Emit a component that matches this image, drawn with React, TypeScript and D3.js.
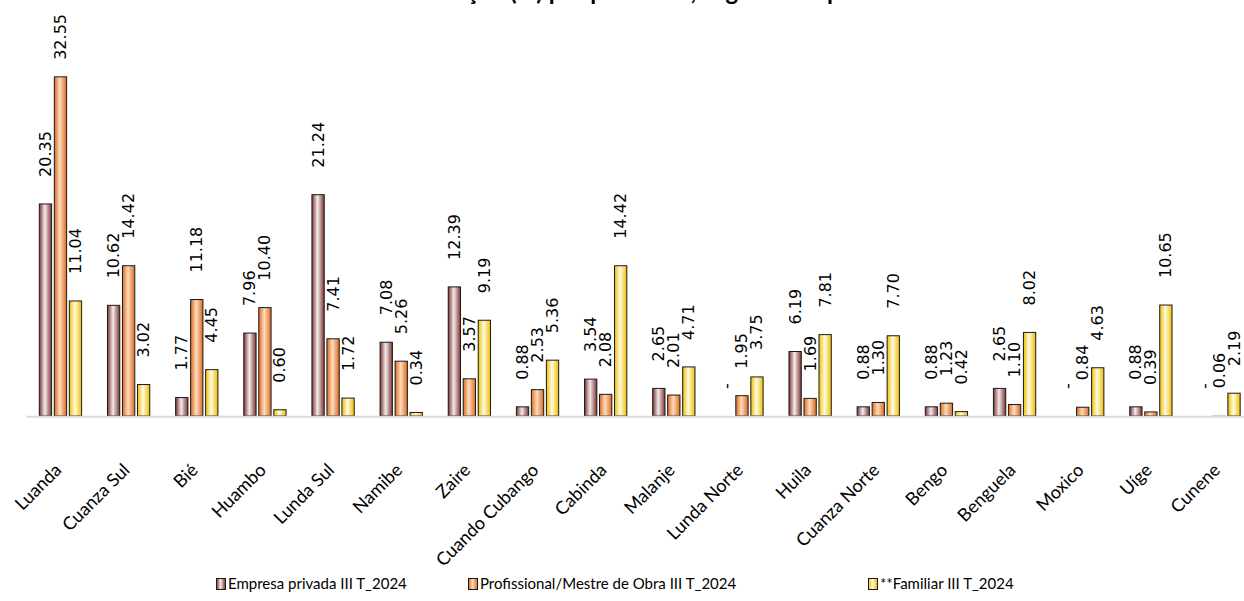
import React, { useEffect, useRef } from 'react';
import * as d3 from 'd3';

const categories = [
  'Luanda', 'Cuanza Sul', 'Bié', 'Huambo', 'Lunda Sul', 'Namibe', 'Zaire',
  'Cuando Cubango', 'Cabinda', 'Malanje', 'Lunda Norte', 'Huila',
  'Cuanza Norte', 'Bengo', 'Benguela', 'Moxico', 'Uíge', 'Cunene',
];
const empresaPrivada = [20.35, 10.62, 1.77, 7.96, 21.24, 7.08, 12.39, 0.88, 3.54, 2.65, 0, 6.19, 0.88, 0.88, 2.65, 0, 0.88, 0];
const profissional = [32.55, 14.42, 11.18, 10.4, 7.41, 5.26, 3.57, 2.53, 2.08, 2.01, 1.95, 1.69, 1.3, 1.23, 1.1, 0.84, 0.39, 0.06];
const familiar = [11.04, 3.02, 4.45, 0.6, 1.72, 0.34, 9.19, 5.36, 14.42, 4.71, 3.75, 7.81, 7.7, 0.42, 8.02, 4.63, 10.65, 2.19];
const seriesNames = ['Empresa privada III T_2024', 'Profissional/Mestre de Obra III T_2024', '**Familiar III T_2024'];
const title = 'Distribuição (%) por promotor, segundo as províncias';

const seriesValues = [empresaPrivada, profissional, familiar];
const gradients = [
  { edge: '#7a3434', mid: '#f7eaea' },
  { edge: '#dc6a22', mid: '#fddcbc' },
  { edge: '#efbd00', mid: '#fffbe0' },
];

const W = 1244;
const H = 601;

export default function App() {
  const ref = useRef<SVGSVGElement>(null);

  useEffect(() => {
    const svg = d3.select(ref.current);
    svg.selectAll('*').remove();

    const defs = svg.append('defs');
    gradients.forEach((g, i) => {
      const lg = defs.append('linearGradient').attr('id', `grad${i}`).attr('x1', 0).attr('x2', 1).attr('y1', 0).attr('y2', 0);
      lg.append('stop').attr('offset', '0%').attr('stop-color', g.edge);
      lg.append('stop').attr('offset', '45%').attr('stop-color', g.mid);
      lg.append('stop').attr('offset', '100%').attr('stop-color', g.edge);
    });

    const left = 26.4;
    const step = 68.15;
    const x0 = d3.scaleBand<string>().domain(categories).range([left, left + step * categories.length]);
    const x1 = d3.scaleBand<number>().domain([0, 1, 2]).range([0, x0.bandwidth()]).paddingInner(0.18).paddingOuter(0.862);
    const y = d3.scaleLinear().domain([0, 40]).range([416, 416 - 10.42 * 40]);

    // title (mostly clipped at the top, as in the reference)
    svg.append('text')
      .attr('x', 655).attr('y', 0)
      .attr('text-anchor', 'middle')
      .style('font-family', 'Lato, sans-serif').style('font-weight', 'bold').style('font-size', '24px')
      .text(title);

    // bars
    seriesValues.forEach((vals, s) => {
      svg.append('g').selectAll('rect').data(vals).join('rect')
        .attr('x', (_, i) => (x0(categories[i]) as number) + (x1(s) as number))
        .attr('y', (d) => y(d))
        .attr('width', x1.bandwidth())
        .attr('height', (d) => y(0) - y(d))
        .attr('fill', `url(#grad${s})`)
        .attr('stroke', (d) => (d < 0.1 ? '#d0d0d0' : '#1a1a1a'))
        .attr('stroke-width', (d) => (d > 0 ? 1 : 0));
    });

    // axis line
    const xEnd = left + step * categories.length;
    svg.append('line').attr('x1', left).attr('x2', xEnd).attr('y1', y(0) + 0.7).attr('y2', y(0) + 0.7)
      .attr('stroke', '#d9d9d9').attr('stroke-width', 2);

    // data labels
    const labelTop = 14;
    seriesValues.forEach((vals, s) => {
      vals.forEach((v, i) => {
        const cx = (x0(categories[i]) as number) + (x1(s) as number) + x1.bandwidth() / 2;
        const t = svg.append('text')
          .attr('text-anchor', 'start')
          .attr('dominant-baseline', 'central')
          .style('font-family', '"DejaVu Sans", sans-serif').style('font-size', '16px')
          .attr('fill', '#000')
          .text(v === 0 ? '-' : v.toFixed(2));
        const len = (t.node() as SVGTextElement).getComputedTextLength();
        let start = y(v) - 27;
        if (start - len < labelTop) start = labelTop + len;
        t.attr('transform', `translate(${cx},${start}) rotate(-90)`);
      });
    });

    // category labels
    categories.forEach((c) => {
      const cx = (x0(c) as number) + x0.bandwidth() / 2;
      svg.append('text')
        .attr('text-anchor', 'end')
        .attr('dominant-baseline', 'hanging')
        .attr('transform', `translate(${cx - 8},${461}) rotate(-45)`)
        .style('font-family', 'Lato, sans-serif').style('font-size', '18px')
        .attr('fill', '#000')
        .text(c);
    });

    // legend
    const legendX = [216, 468, 868];
    seriesNames.forEach((n, i) => {
      const g = svg.append('g').attr('transform', `translate(${legendX[i]},578)`);
      g.append('rect').attr('x', 0.5).attr('y', 0.5).attr('width', 9).attr('height', 11)
        .attr('fill', `url(#grad${i})`).attr('stroke', '#1a1a1a').attr('stroke-width', 1);
      g.append('text').attr('x', 12).attr('y', 11)
        .style('font-family', 'Lato, sans-serif').style('font-size', '15px')
        .attr('fill', '#000')
        .text(n);
    });
  }, []);

  return (
    <svg ref={ref} width={W} height={H} style={{ position: 'absolute', left: 0, top: 0, background: '#fff' }} />
  );
}
